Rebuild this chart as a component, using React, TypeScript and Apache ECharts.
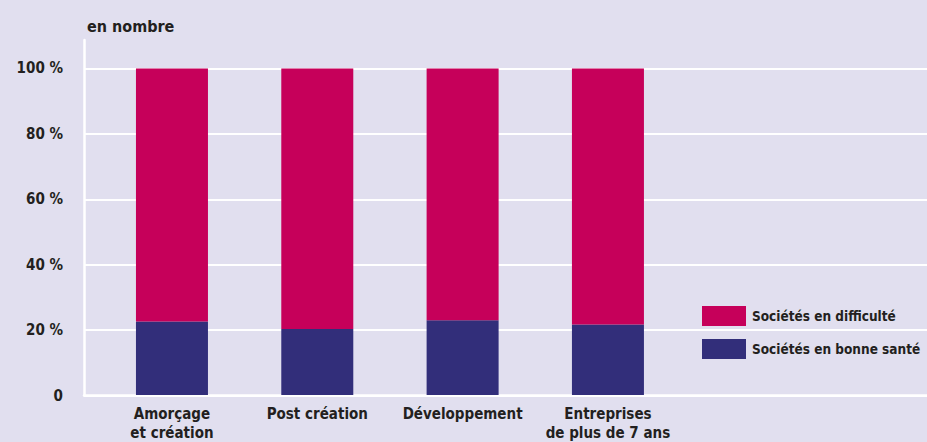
import React, { useEffect, useRef } from "react";
import * as echarts from "echarts";

const categories = ["Amorçage\net création", "Post création", "Développement", "Entreprises\nde plus de 7 ans"];
const healthy = [22.5, 20.2, 22.9, 21.6];
const difficulty = [77.5, 79.8, 77.1, 78.4];
const yTicks = [0, 20, 40, 60, 80, 100];
const seriesNames = ["Sociétés en difficulté", "Sociétés en bonne santé"];

const FONT = "'DejaVu Sans Condensed', 'DejaVu Sans', sans-serif";
const TEXT = "#231f20";
const BG = "#e1dfef";
const MAGENTA = "#c6005a";
const NAVY = "#322e7a";

export default function App() {
  const ref = useRef<HTMLDivElement>(null);
  useEffect(() => {
    if (!ref.current) return;
    const chart = echarts.init(ref.current, undefined, { renderer: "svg" });
    const yMax = 108.7;
    chart.setOption({
      animation: false,
      backgroundColor: BG,
      textStyle: { fontFamily: FONT },
      title: {
        text: "en nombre",
        left: 82,
        top: 13,
        textStyle: { fontFamily: FONT, fontWeight: "bold", fontSize: 16, color: TEXT },
      },
      legend: {
        data: seriesNames,
        orient: "vertical",
        left: 697,
        top: 301,
        itemWidth: 44,
        itemHeight: 20,
        itemGap: 13,
        icon: "rect",
        textStyle: { fontFamily: FONT, fontWeight: "bold", fontSize: 13.5, color: TEXT, padding: [0, 0, 0, 1] },
      },
      grid: [
        { left: 84, right: 0, top: 40, bottom: 46.5 },
        { left: 99.3, width: 581.3, top: 40, bottom: 46.5 },
      ],
      xAxis: [
        {
          gridIndex: 0,
          type: "value",
          min: 0,
          max: 1,
          show: true,
          axisLine: { show: true, onZero: false, lineStyle: { color: "#ffffff", width: 2.5 } },
          axisTick: { show: false },
          axisLabel: { show: false },
          splitLine: { show: false },
        },
        {
          gridIndex: 1,
          type: "category",
          data: categories,
          axisLine: { show: false },
          axisTick: { show: false },
          axisLabel: {
            margin: 9,
            fontFamily: FONT,
            fontWeight: "bold",
            fontSize: 15,
            lineHeight: 19,
            color: TEXT,
            interval: 0,
          },
        },
      ],
      yAxis: [
        {
          gridIndex: 0,
          type: "value",
          min: yTicks[0],
          max: yMax,
          interval: 20,
          axisLine: { show: true, lineStyle: { color: "#ffffff", width: 2.5 } },
          axisTick: { show: false },
          axisLabel: {
            margin: 21,
            fontFamily: FONT,
            fontWeight: "bold",
            fontSize: 15,
            color: TEXT,
            showMaxLabel: false,
            formatter: (v: number) => (yTicks.includes(v) ? (v === 0 ? "0" : `${v} %`) : ""),
          },
          splitLine: { show: true, showMaxLine: false, lineStyle: { color: "#ffffff", width: 2 } },
        },
        {
          gridIndex: 1,
          type: "value",
          min: 0,
          max: yMax,
          show: false,
          splitLine: { show: false },
        },
      ],
      series: [
        {
          name: seriesNames[1],
          type: "bar",
          stack: "total",
          xAxisIndex: 1,
          yAxisIndex: 1,
          barWidth: 72,
          data: healthy,
          itemStyle: { color: NAVY },
        },
        {
          name: seriesNames[0],
          type: "bar",
          stack: "total",
          xAxisIndex: 1,
          yAxisIndex: 1,
          barWidth: 72,
          data: difficulty,
          itemStyle: { color: MAGENTA },
        },
      ],
    });
    return () => chart.dispose();
  }, []);
  return (
    <div
      ref={ref}
      style={{ position: "fixed", left: 0, top: 0, width: 927, height: 442 }}
    />
  );
}
